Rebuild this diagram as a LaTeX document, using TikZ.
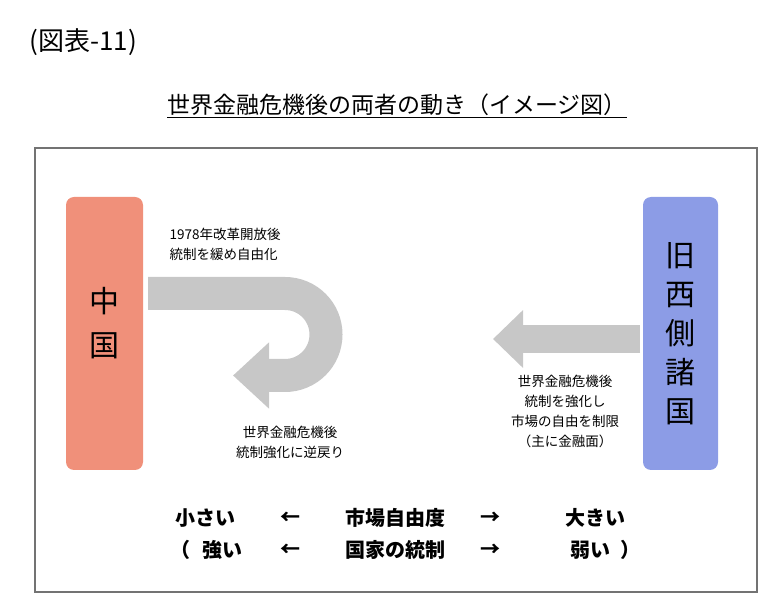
\documentclass[tikz,border=0pt]{standalone}
\usepackage{fontspec}
\setmainfont{Noto Sans CJK JP}
\usetikzlibrary{arrows.meta}
\begin{document}
\begin{tikzpicture}[x=1pt, y=-1pt, side/.style={rounded corners=8pt, draw=none}, band/.style={draw=black!22, line width=33pt}, small/.style={font=\fontsize{13.5}{20}\selectfont, align=center}, row/.style={font=\fontsize{20}{22}\selectfont\bfseries}]
  \useasboundingbox (0,0) rectangle (777,609);
  \node[anchor=west, font=\fontsize{26}{30}\selectfont](fig) at (26,42){(図表-11)};
  \node[font=\fontsize{23}{28}\selectfont](title) at (397,106){\underline{世界金融危機後の両者の動き（イメージ図）}};
  \draw[black!55, line width=1.2pt] (35,148) rectangle (757,592);
  \fill[side, fill={rgb,255:red,240;green,144;blue,122}] (66,197) rectangle (143,470);
  \fill[side, fill={rgb,255:red,140;green,156;blue,230}] (643,197) rectangle (718,470);
  \node[align=center, font=\fontsize{30}{44}\selectfont](china) at (104,323){中\\国};
  \node[align=center, font=\fontsize{30}{39}\selectfont](west) at (680,334){旧\\西\\側\\諸\\国};
  % arrows
  \draw[band, -{Triangle[width=64pt, length=36pt]}] (148,293.5) -- (285,293.5) arc[start angle=-90, end angle=90, radius=41] -- (233,375.5);
  \draw[draw=black!22, line width=28pt, -{Triangle[width=56pt, length=30pt]}] (640,339) -- (493,339);
  % labels
  \node[small, align=left, anchor=west](reform) at (166,244){1978年改革開放後\\統制を緩め自由化};
  \node[small](back) at (290,442){世界金融危機後\\統制強化に逆戻り};
  \node[small](tight) at (565,411){世界金融危機後\\統制を強化し\\市場の自由を制限\\（主に金融面）};
  % bottom rows
  \draw (205,518)node[row](s){小さい};
  \draw (290,518)node[row](l1){←};
  \draw (395,518)node[row](m){市場自由度};
  \draw (490,518)node[row](r1){→};
  \draw (595,518)node[row](b){大きい};
  \draw (180,550)node[row](p1){（};
  \draw (222,550)node[row](st){強い};
  \draw (290,550)node[row](l2){←};
  \draw (395,550)node[row](n){国家の統制};
  \draw (490,550)node[row](r2){→};
  \draw (590,550)node[row](w){弱い};
  \draw (630,550)node[row](p2){）};
\end{tikzpicture}
\end{document}
